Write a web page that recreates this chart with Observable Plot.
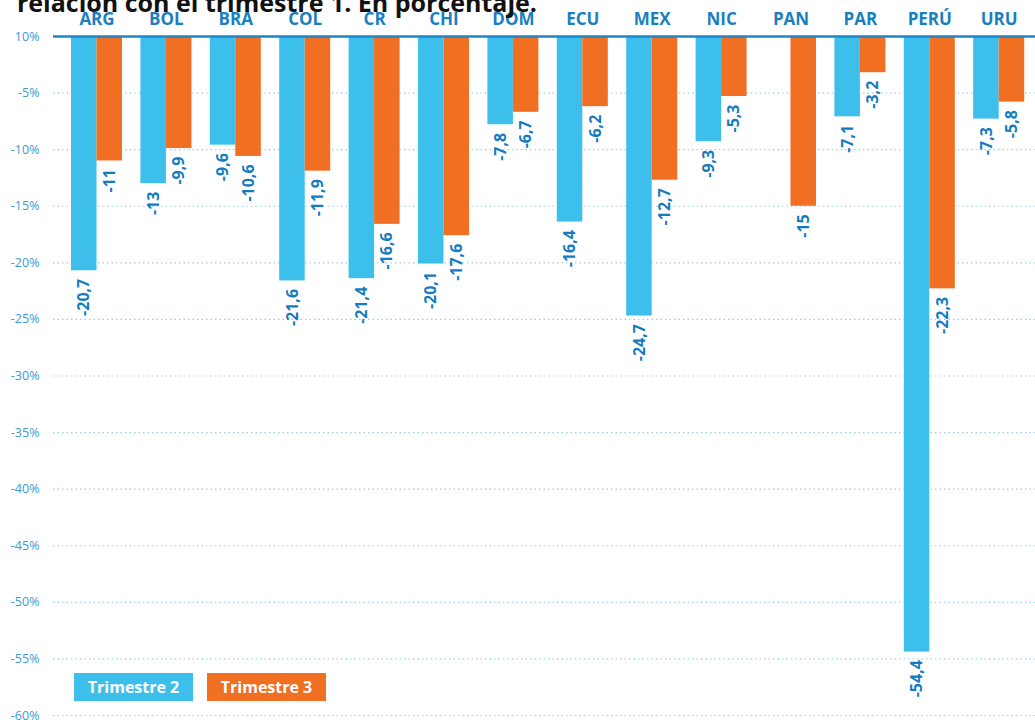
<!DOCTYPE html>
<html><head><meta charset="utf-8">
<script src="https://cdn.jsdelivr.net/npm/d3@7"></script>
<script src="https://cdn.jsdelivr.net/npm/@observablehq/plot@0.6"></script>
<style>
body{margin:0;background:#fff;font-family:'Open Sans',sans-serif;overflow:hidden}
#wrap{position:relative;width:1035px;height:722px;overflow:hidden}
#title{position:absolute;left:17px;top:-10px;font-weight:700;font-size:25px;line-height:25px;color:#111;white-space:nowrap}
.leg{position:absolute;top:673px;height:28px;width:119px;color:#fff;font-weight:700;font-size:16px;line-height:28px;text-align:center}
</style></head><body>
<div id="wrap"><div id="chart"></div><div id="title">relación con el trimestre 1. En porcentaje.</div><div id="legend"></div></div>
<script>
const countries = ["ARG","BOL","BRA","COL","CR","CHI","DOM","ECU","MEX","NIC","PAN","PAR","PERÚ","URU"];
const trimestre2 = [-20.7,-13,-9.6,-21.6,-21.4,-20.1,-7.8,-16.4,-24.7,-9.3,null,-7.1,-54.4,-7.3];
const trimestre3 = [-11,-9.9,-10.6,-11.9,-16.6,-17.6,-6.7,-6.2,-12.7,-5.3,-15,-3.2,-22.3,-5.8];
const seriesNames = ["Trimestre 2","Trimestre 3"];
const seriesColors = ["#3dbfeb","#f06f22"];
const yTicks = [0,-5,-10,-15,-20,-25,-30,-35,-40,-45,-50,-55,-60];
const yTickLabels = ["10%","-5%","-10%","-15%","-20%","-25%","-30%","-35%","-40%","-45%","-50%","-55%","-60%"];

const rows2 = countries.map((c,i)=>({country:c, value:trimestre2[i]})).filter(d=>d.value!=null);
const rows3 = countries.map((c,i)=>({country:c, value:trimestre3[i]})).filter(d=>d.value!=null);
const fmt = v => String(v).replace(".", ",");
const labelColor = "#147bbf";

const plot = Plot.plot({
  width:1035, height:722, marginTop:36, marginBottom:7, marginLeft:53, marginRight:0,
  style:{fontFamily:"'Open Sans', sans-serif", background:"#fff", overflow:"visible"},
  x:{type:"band", domain:countries, paddingInner:0.265, paddingOuter:0.2075, align:0.625, round:false, axis:null},
  y:{domain:[-60,0], axis:null},
  marks:[
    Plot.ruleY(yTicks.slice(1), {stroke:"#9fcde6", strokeDasharray:"1.5,3", strokeWidth:1.2}),
    Plot.barY(rows2, {x:"country", y:"value", fill:seriesColors[0], insetRight:25.5}),
    Plot.barY(rows3, {x:"country", y:"value", fill:seriesColors[1], insetLeft:25.5}),
    Plot.ruleY([0], {stroke:"#1d86c6", strokeWidth:2.5}),
    Plot.text(rows2, {x:"country", y:"value", text:d=>fmt(d.value), rotate:-90, textAnchor:"end", lineAnchor:"middle", dx:-12.75, dy:8, fill:labelColor, fontWeight:700, fontSize:16}),
    Plot.text(rows3, {x:"country", y:"value", text:d=>fmt(d.value), rotate:-90, textAnchor:"end", lineAnchor:"middle", dx:12.75, dy:8, fill:labelColor, fontWeight:700, fontSize:16}),
    Plot.axisX({anchor:"top", tickSize:0, tickPadding:12, fontSize:17, fontWeight:700, fill:"#1a7fc1", label:null}),
    Plot.axisY({ticks:yTicks, tickFormat:(d)=>yTickLabels[yTicks.indexOf(d)], tickSize:0, tickPadding:14, fontSize:12.5, fill:"#3c9ad6", label:null})
  ]
});
document.getElementById("chart").appendChild(plot);
const leg = document.getElementById("legend");
seriesNames.forEach((n,i)=>{
  const d = document.createElement("div");
  d.className="leg"; d.textContent=n; d.style.background=seriesColors[i];
  d.style.left = (74 + i*133) + "px";
  leg.appendChild(d);
});
</script>
</body></html>
